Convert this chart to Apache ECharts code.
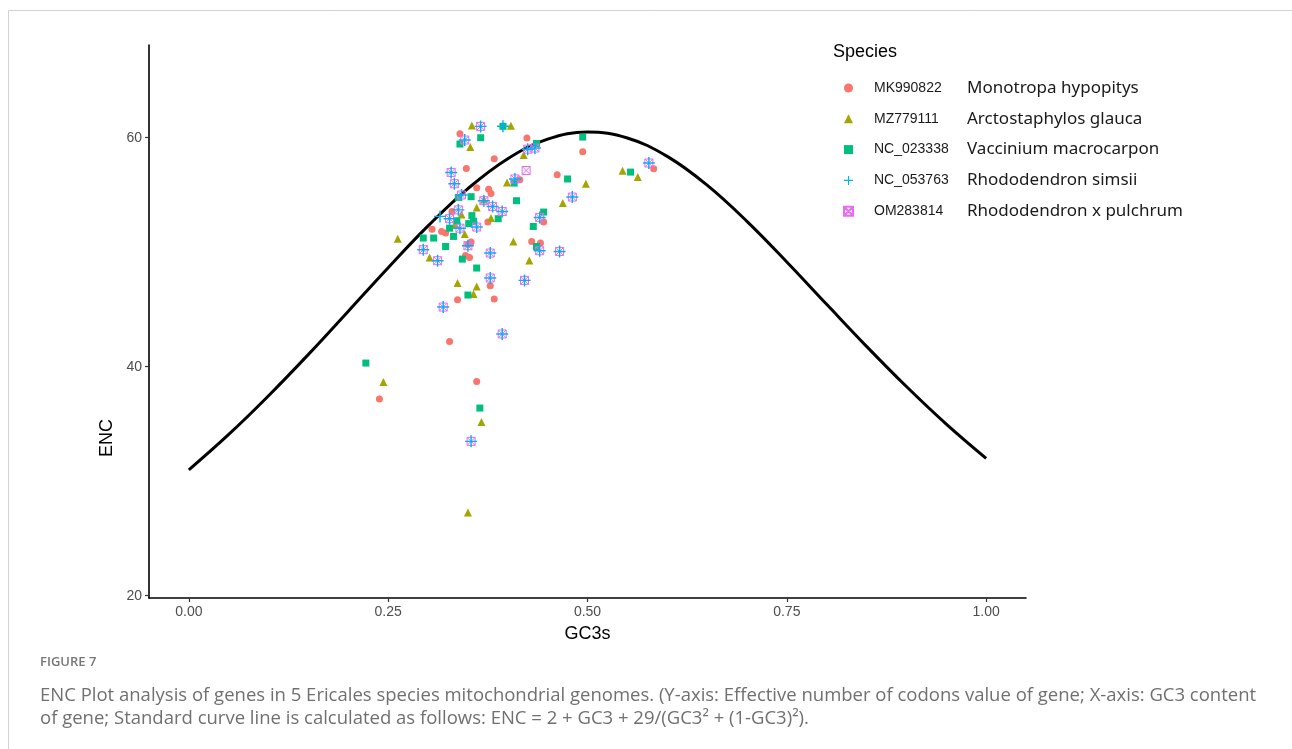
<!DOCTYPE html>
<html>
<head>
<meta charset="utf-8">
<title>ENC plot</title>
<script src="https://cdn.jsdelivr.net/npm/echarts@6/dist/echarts.min.js"></script>
<style>
  html, body { margin: 0; padding: 0; background: #fff; }
  #chart { width: 1292px; height: 749px; }
</style>
</head>
<body>
<div id="chart"></div>
<script>
// legend entries
const accessions = ['MK990822', 'MZ779111', 'NC_023338', 'NC_053763', 'OM283814'];
const speciesNames = ['Monotropa hypopitys', 'Arctostaphylos glauca', 'Vaccinium macrocarpon',
  'Rhododendron simsii', 'Rhododendron x pulchrum'];
const colors = ['#F8766D', '#A3A500', '#00BF7D', '#00B0F6', '#E76BF3'];

const xTicks = [0, 0.25, 0.5, 0.75, 1];
const yTicks = [20, 40, 60];

// standard curve, read at GC3s steps of 0.05
const curveX = [0, 0.05, 0.10, 0.15, 0.20, 0.25, 0.30, 0.35, 0.40, 0.45, 0.50,
  0.55, 0.60, 0.65, 0.70, 0.75, 0.80, 0.85, 0.90, 0.95, 1.00];
const curveY = [31.0, 34.09, 37.47, 41.08, 44.85, 48.65, 52.3, 55.56, 58.17, 59.88, 60.5,
  59.98, 58.37, 55.86, 52.7, 49.15, 45.45, 41.78, 38.27, 34.99, 32.0];

// [GC3s, ENC] per genome
const mk990822 = [[0.340, 60.35], [0.424, 59.97], [0.383, 58.17], [0.348, 57.32], [0.462, 56.77],
  [0.415, 56.33], [0.361, 55.63], [0.376, 55.5], [0.379, 55.14], [0.375, 52.64], [0.330, 53.56],
  [0.305, 52.0], [0.317, 51.8], [0.322, 51.67], [0.445, 52.64], [0.350, 50.7], [0.354, 50.89],
  [0.347, 49.72], [0.352, 49.55], [0.430, 50.94], [0.441, 50.8], [0.378, 47.07], [0.337, 45.85],
  [0.383, 45.91], [0.327, 42.21], [0.361, 38.72], [0.239, 37.18], [0.494, 58.78], [0.583, 57.29]];
const mz779111 = [[0.355, 61.07], [0.404, 61.05], [0.353, 59.19], [0.420, 58.5], [0.399, 56.1],
  [0.370, 54.6], [0.361, 53.9], [0.379, 53.0], [0.342, 53.3], [0.334, 52.4], [0.346, 51.6],
  [0.262, 51.18], [0.302, 49.55], [0.407, 50.94], [0.427, 49.28], [0.337, 47.31], [0.361, 47.01],
  [0.357, 46.35], [0.367, 35.17], [0.350, 27.27], [0.244, 38.66], [0.498, 55.98], [0.544, 57.12],
  [0.563, 56.57], [0.469, 54.3]];
const nc023338 = [[0.394, 61.0], [0.366, 60.0], [0.340, 59.45], [0.436, 59.5], [0.408, 56.04],
  [0.354, 54.85], [0.338, 54.79], [0.411, 54.5], [0.388, 52.93], [0.445, 53.51], [0.432, 52.25],
  [0.355, 53.2], [0.357, 52.7], [0.351, 52.5], [0.336, 52.75], [0.327, 52.1], [0.332, 51.38],
  [0.294, 51.24], [0.307, 51.24], [0.322, 50.5], [0.343, 49.4], [0.361, 48.62], [0.350, 46.26],
  [0.365, 36.39], [0.222, 40.32], [0.494, 60.06], [0.475, 56.4], [0.554, 57.0], [0.436, 50.5]];
const nc053763 = [[0.366, 60.99], [0.346, 59.8], [0.425, 59.0], [0.434, 59.1], [0.329, 56.97],
  [0.333, 55.98], [0.409, 56.4], [0.342, 55.0], [0.370, 54.5], [0.381, 54.0], [0.393, 53.56],
  [0.440, 53.04], [0.338, 53.7], [0.327, 52.93], [0.361, 52.2], [0.340, 52.1], [0.294, 50.22],
  [0.312, 49.26], [0.350, 50.57], [0.378, 49.93], [0.440, 50.13], [0.465, 50.07], [0.378, 47.75],
  [0.421, 47.54], [0.319, 45.21], [0.393, 42.86], [0.354, 33.48], [0.577, 57.79], [0.481, 54.82],
  [0.315, 53.13], [0.394, 61.0]];
const om283814 = [[0.366, 60.99], [0.346, 59.8], [0.425, 59.0], [0.434, 59.1], [0.329, 56.97],
  [0.333, 55.98], [0.409, 56.4], [0.342, 55.0], [0.370, 54.5], [0.381, 54.0], [0.393, 53.56],
  [0.440, 53.04], [0.338, 53.7], [0.327, 52.93], [0.361, 52.2], [0.340, 52.1], [0.294, 50.22],
  [0.312, 49.26], [0.350, 50.57], [0.378, 49.93], [0.440, 50.13], [0.465, 50.07], [0.378, 47.75],
  [0.421, 47.54], [0.319, 45.21], [0.393, 42.86], [0.354, 33.48], [0.577, 57.79], [0.481, 54.82],
  [0.423, 57.14]];

const pointSets = [mk990822, mz779111, nc023338, nc053763, om283814];

// ggplot shapes 16, 17, 15, 3, 7
const plusPath = 'path://M4.4,0H5.6V10H4.4Z M0,4.4H10V5.6H0Z';
const boxXPath = 'path://M0,0H10V10H0Z M0,0L10,10 M10,0L0,10';
const symbols = [
  { symbol: 'circle', size: 7, fill: true },
  { symbol: 'triangle', size: 8, fill: true },
  { symbol: 'rect', size: 7, fill: true },
  { symbol: plusPath, size: 12, fill: true },
  { symbol: boxXPath, size: 8, fill: false }
];

const sans = 'Liberation Sans, Arial, sans-serif';

const chart = echarts.init(document.getElementById('chart'));

const series = [{
  name: 'curve',
  type: 'line',
  data: curveX.map(function (x, i) { return [x, curveY[i]]; }),
  smooth: 0.4,
  showSymbol: false,
  silent: true,
  lineStyle: { color: '#000', width: 3 },
  z: 1
}];

// order so crosses end up on top of the boxed x
const drawOrder = [0, 1, 2, 4, 3];
drawOrder.forEach(function (i) {
  const s = symbols[i];
  series.push({
    name: accessions[i],
    type: 'scatter',
    data: pointSets[i],
    symbol: s.symbol,
    symbolSize: s.size,
    itemStyle: s.fill
      ? { color: colors[i], opacity: 1 }
      : { color: 'rgba(0,0,0,0)', borderColor: colors[i], borderWidth: 1, opacity: 1 },
    emphasis: { disabled: true },
    z: 2 + drawOrder.indexOf(i)
  });
});

const option = {
  animation: false,
  backgroundColor: '#fff',
  grid: { left: 149, top: 45, width: 877, height: 553 },
  xAxis: {
    type: 'value',
    min: -0.05,
    max: 1.05,
    name: 'GC3s',
    nameLocation: 'middle',
    nameGap: 27,
    nameTextStyle: { color: '#000', fontSize: 18, fontFamily: sans },
    splitLine: { show: false },
    axisLine: { onZero: false, lineStyle: { color: '#000', width: 1.6 } },
    axisTick: { customValues: xTicks, length: 4, lineStyle: { color: '#333', width: 1.2 } },
    axisLabel: {
      customValues: xTicks,
      margin: 7,
      color: '#4d4d4d',
      fontSize: 14,
      fontFamily: sans,
      formatter: function (v) { return v.toFixed(2); }
    }
  },
  yAxis: {
    type: 'value',
    min: 19.8,
    max: 68.1,
    splitLine: { show: false },
    axisLine: { show: true, onZero: false, lineStyle: { color: '#000', width: 1.6 } },
    axisTick: { show: true, customValues: yTicks, length: 4, lineStyle: { color: '#333', width: 1.2 } },
    axisLabel: { customValues: yTicks, margin: 7, color: '#4d4d4d', fontSize: 14, fontFamily: sans }
  },
  legend: {
    data: accessions.map(function (a, i) {
      return { name: a, icon: symbols[i].symbol };
    }),
    orient: 'vertical',
    left: 843,
    top: 79.5,
    padding: 0,
    itemWidth: 9,
    itemHeight: 9,
    itemGap: 13.8,
    selectedMode: false,
    formatter: function (name) {
      return '{a|' + name + '}{b|' + speciesNames[accessions.indexOf(name)] + '}';
    },
    textStyle: {
      rich: {
        a: { fontFamily: sans, fontSize: 14, color: '#1a1a1a', width: 93, padding: [0, 0, 0, 16], lineHeight: 20 },
        b: { fontFamily: 'Noto Sans, sans-serif', fontSize: 17, color: '#1a1a1a', lineHeight: 20 }
      }
    }
  },
  graphic: [
    {
      type: 'rect',
      shape: { x: 8.5, y: 10.5, width: 1400, height: 900 },
      style: { fill: 'none', stroke: '#d3d3d3', lineWidth: 1 },
      silent: true
    },
    {
      type: 'text',
      left: 833,
      top: 43,
      style: { text: 'Species', fontFamily: sans, fontSize: 18, fill: '#000' }
    },
    {
      type: 'text',
      x: 107,
      y: 438,
      rotation: Math.PI / 2,
      style: { text: 'ENC', fontFamily: sans, fontSize: 18, fill: '#000', align: 'center', verticalAlign: 'middle' }
    },
    {
      type: 'text',
      left: 40,
      top: 656,
      style: { text: 'FIGURE 7', fontFamily: 'Open Sans, sans-serif', fontSize: 13, fontWeight: 600, fill: '#777' }
    },
    {
      type: 'text',
      left: 40,
      top: 684,
      style: {
        text: 'ENC Plot analysis of genes in 5 Ericales species mitochondrial genomes. (Y-axis: Effective number of codons value of gene; X-axis: GC3 content\n' +
          'of gene; Standard curve line is calculated as follows: ENC = 2 + GC3 + 29/(GC3\u00b2 + (1-GC3)\u00b2).',
        fontFamily: 'Open Sans, sans-serif',
        fontSize: 18.5,
        lineHeight: 23,
        fill: '#707070'
      }
    }
  ],
  series: series
};

chart.setOption(option);
</script>
</body>
</html>
